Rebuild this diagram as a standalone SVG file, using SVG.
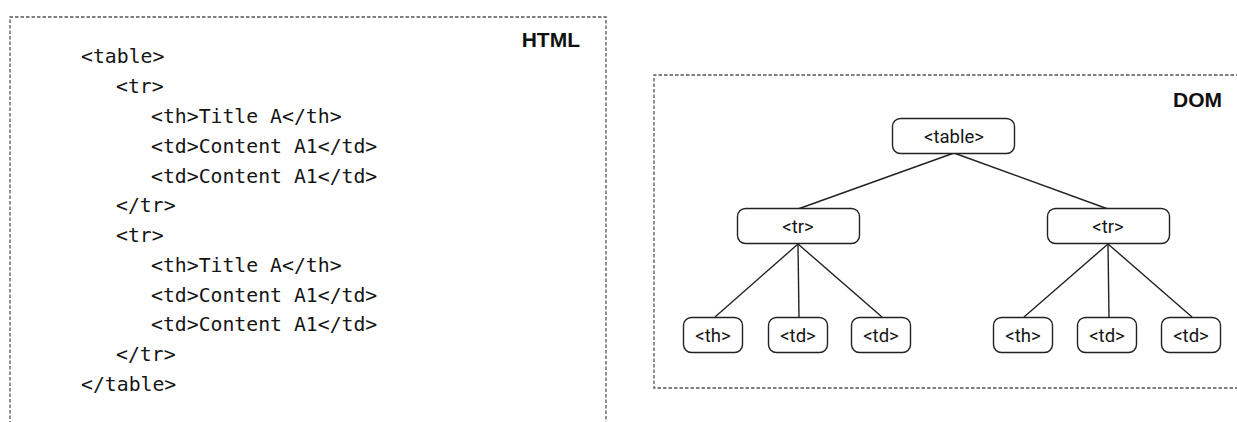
<svg xmlns="http://www.w3.org/2000/svg" width="1237" height="422" viewBox="0 0 1237 422">
<style>
.frame{fill:none;stroke:#555;stroke-width:1.3;stroke-dasharray:3.5 2}
.code{font-family:"DejaVu Sans Mono","Liberation Mono",monospace;font-size:19.8px;fill:#151515}
.title{font-family:"Liberation Sans",Arial,sans-serif;font-size:21px;font-weight:bold;fill:#111;text-anchor:end}
.node rect{fill:#fff;stroke:#222;stroke-width:1.4}
.node text{font-family:Roboto,"Liberation Sans",sans-serif;font-size:18.5px;fill:#151515;text-anchor:middle}
.edges line{stroke:#222;stroke-width:1.4}
</style>
<rect width="1237" height="422" fill="#fff"/>
<g id="html-panel">
<path class="frame" d="M10,430 V17 H606 V430"/>
<text class="title" x="580" y="47">HTML</text>
<text class="code" x="81" y="63">&lt;table&gt;</text>
<text class="code" x="116" y="93">&lt;tr&gt;</text>
<text class="code" x="151" y="123">&lt;th&gt;Title A&lt;/th&gt;</text>
<text class="code" x="151" y="153">&lt;td&gt;Content A1&lt;/td&gt;</text>
<text class="code" x="151" y="183">&lt;td&gt;Content A1&lt;/td&gt;</text>
<text class="code" x="116" y="212">&lt;/tr&gt;</text>
<text class="code" x="116" y="242">&lt;tr&gt;</text>
<text class="code" x="151" y="272">&lt;th&gt;Title A&lt;/th&gt;</text>
<text class="code" x="151" y="302">&lt;td&gt;Content A1&lt;/td&gt;</text>
<text class="code" x="151" y="331">&lt;td&gt;Content A1&lt;/td&gt;</text>
<text class="code" x="116" y="361">&lt;/tr&gt;</text>
<text class="code" x="81" y="391">&lt;/table&gt;</text>
</g>
<g id="dom-panel">
<path class="frame" d="M1245,75 H654 V388 H1245"/>
<text class="title" x="1222" y="107">DOM</text>
</g>
<g class="edges" id="connectors">
<line x1="954" y1="153" x2="798" y2="209"/>
<line x1="954" y1="153" x2="1108" y2="209"/>
<line x1="798" y1="244" x2="715" y2="317"/>
<line x1="798" y1="244" x2="799" y2="317"/>
<line x1="798" y1="244" x2="882" y2="317"/>
<line x1="1108" y1="244" x2="1024" y2="317"/>
<line x1="1108" y1="244" x2="1109" y2="317"/>
<line x1="1108" y1="244" x2="1192" y2="317"/>
</g>
<g class="node" id="n-table"><rect x="892.5" y="118.5" width="122" height="35" rx="8"/><text x="954" y="142.5">&lt;table&gt;</text></g>
<g class="node" id="n-tr1"><rect x="737.5" y="208.5" width="122" height="35" rx="8"/><text x="798" y="232.5">&lt;tr&gt;</text></g>
<g class="node" id="n-tr2"><rect x="1047.5" y="208.5" width="122" height="35" rx="8"/><text x="1108" y="232.5">&lt;tr&gt;</text></g>
<g class="node" id="n-th1"><rect x="683.5" y="317.5" width="59" height="35" rx="8"/><text x="713" y="341.5">&lt;th&gt;</text></g>
<g class="node" id="n-td1"><rect x="768.5" y="317.5" width="59" height="35" rx="8"/><text x="798" y="341.5">&lt;td&gt;</text></g>
<g class="node" id="n-td2"><rect x="851.5" y="317.5" width="59" height="35" rx="8"/><text x="881" y="341.5">&lt;td&gt;</text></g>
<g class="node" id="n-th2"><rect x="993.5" y="317.5" width="59" height="35" rx="8"/><text x="1023" y="341.5">&lt;th&gt;</text></g>
<g class="node" id="n-td3"><rect x="1077.5" y="317.5" width="59" height="35" rx="8"/><text x="1107" y="341.5">&lt;td&gt;</text></g>
<g class="node" id="n-td4"><rect x="1161.5" y="317.5" width="59" height="35" rx="8"/><text x="1191" y="341.5">&lt;td&gt;</text></g>
</svg>
